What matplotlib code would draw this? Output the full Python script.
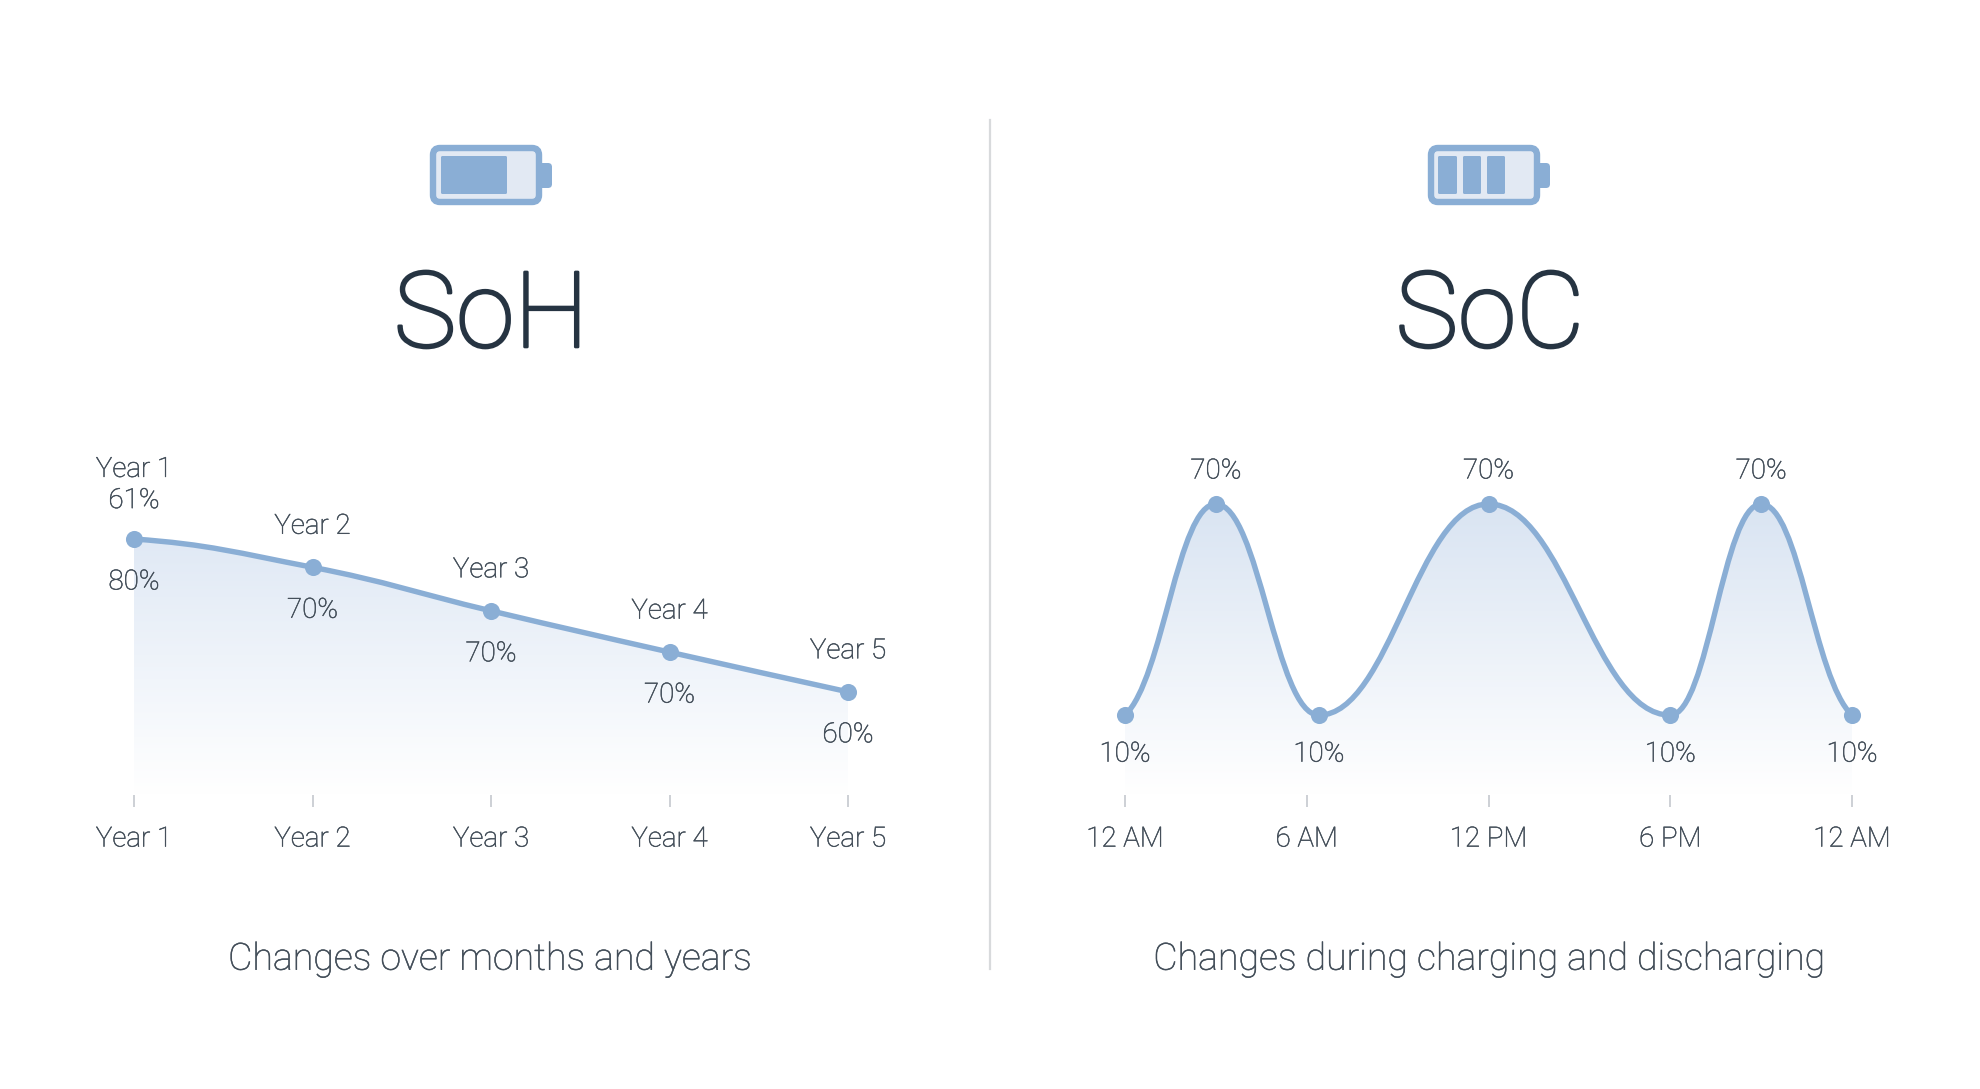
import numpy as np
import matplotlib
matplotlib.use('Agg')
import matplotlib.pyplot as plt
import matplotlib.patheffects as pe
from matplotlib.path import Path
from matplotlib.patches import PathPatch, FancyBboxPatch

plt.rcParams['font.family'] = ['Roboto', 'DejaVu Sans']

# values
soh_x = [0, 1, 2, 3, 4]
soh_level = [80, 76.3, 70.6, 65.2, 60]
soh_top_labels = ['Year 1\n61%', 'Year 2', 'Year 3', 'Year 4', 'Year 5']
soh_low_labels = ['80%', '70%', '70%', '70%', '60%']
soh_ticks = ['Year 1', 'Year 2', 'Year 3', 'Year 4', 'Year 5']

soc_hours = [0, 3, 6.4, 12, 18, 21, 24]
soc_level = [10, 70, 10, 70, 10, 70, 10]
soc_tick_hours = [0, 6, 12, 18, 24]
soc_ticks = ['12 AM', '6 AM', '12 PM', '6 PM', '12 AM']

W, H = 1980, 1089
LINE = '#8aaed5'
DARK = '#263442'
TEXT = '#434e59'
TICK = '#c9cdd2'
PALE = '#e2e9f3'


def heavier(w, c):
    return [pe.withStroke(linewidth=w, foreground=c)]


def smooth_path(xs, ys, start_slope, end_slope):
    # monotone bezier through the points, flat at the peaks and valleys
    xs = np.array(xs, dtype=float)
    ys = np.array(ys, dtype=float)
    sec = np.diff(ys) / np.diff(xs)
    m = np.zeros(len(xs))
    for i in range(1, len(xs) - 1):
        if sec[i - 1] * sec[i] > 0:
            m[i] = 2 * sec[i - 1] * sec[i] / (sec[i - 1] + sec[i])
    m[0] = sec[0] * start_slope
    m[-1] = sec[-1] * end_slope
    verts = [(xs[0], ys[0])]
    codes = [Path.MOVETO]
    for i in range(len(xs) - 1):
        h = (xs[i + 1] - xs[i]) * 0.42
        verts += [(xs[i] + h, ys[i] + m[i] * h),
                  (xs[i + 1] - h, ys[i + 1] - m[i + 1] * h),
                  (xs[i + 1], ys[i + 1])]
        codes += [Path.CURVE4] * 3
    return verts, codes


def panel(box, xs, ys, ylim, top_c, start_slope, end_slope):
    x0, x1, y_top, y_bot = box
    ax = fig.add_axes([x0 / W, 1 - y_bot / H, (x1 - x0) / W, (y_bot - y_top) / H])
    verts, codes = smooth_path(xs, ys, start_slope, end_slope)
    # gradient under the line
    fill = Path(verts + [(xs[-1], ylim[0]), (xs[0], ylim[0]), (xs[0], ys[0])],
                codes + [Path.LINETO, Path.LINETO, Path.LINETO])
    grad = np.linspace(0, 1, 256)[:, None, None]
    c0 = np.array(matplotlib.colors.to_rgb(top_c))
    img = c0 * (1 - grad) + np.ones(3) * grad
    im = ax.imshow(img, extent=(xs[0], xs[-1], ylim[0], max(ys)), origin='upper',
                   aspect='auto', zorder=1)
    im.set_clip_path(fill, transform=ax.transData)
    ax.add_patch(PathPatch(Path(verts, codes), fc='none', ec=LINE, lw=3.9, zorder=3,
                           capstyle='round', joinstyle='round', clip_on=False))
    ax.plot(xs, ys, ls='', marker='o', ms=12.3, mfc=LINE, mec='none', zorder=4, clip_on=False)
    ax.set_xlim(xs[0], xs[-1])
    ax.set_ylim(*ylim)
    for s in ax.spines.values():
        s.set_visible(False)
    ax.set_yticks([])
    ax.patch.set_alpha(0)
    return ax


def label(ax, x, y, s, dy):
    ax.annotate(s, (x, y), xytext=(0, dy * 0.72), textcoords='offset points', ha='center',
                va='center', fontsize=20, color=TEXT, fontweight='light', linespacing=1.2,
                annotation_clip=False, zorder=5, path_effects=heavier(0.35, TEXT))


fig = plt.figure(figsize=(W / 100, H / 100), dpi=100, facecolor='white')

# overlay in pixel units for icons, titles and divider
bg = fig.add_axes([0, 0, 1, 1])
bg.set_xlim(0, W)
bg.set_ylim(H, 0)
bg.axis('off')


def battery(x, bars):
    bg.add_patch(FancyBboxPatch((x + 104, 163), 18, 25, boxstyle='round,pad=0,rounding_size=4',
                                fc=LINE, ec='none', zorder=1))
    bg.add_patch(FancyBboxPatch((x + 3, 148), 106, 54, boxstyle='round,pad=0,rounding_size=7',
                                fc=PALE, ec=LINE, lw=4.6, zorder=2))
    for b0, b1 in bars:
        bg.add_patch(FancyBboxPatch((x + b0, 156), b1 - b0, 38,
                                    boxstyle='round,pad=0,rounding_size=1.5',
                                    fc=LINE, ec='none', zorder=3))


battery(430, [(11, 77)])
battery(1428, [(10, 29), (35, 53), (59, 77)])
bg.plot([990, 990], [120, 969], color='#d8dadc', lw=1.6)

for cx, t, sub in [(491, 'SoH', 'Changes over months and years'),
                   (1490, 'SoC', 'Changes during charging and discharging')]:
    bg.text(cx, 318, t, ha='center', va='center', fontsize=76, color=DARK, fontweight='light',
            path_effects=heavier(1.9, DARK))
    bg.text(cx - 1, 959, sub, ha='center', va='center', fontsize=27, color=TEXT, fontweight='light',
            path_effects=heavier(0.35, TEXT))

# left panel
ax1 = panel((134, 848, 539, 795), soh_x, soh_level, (46.5, 80), '#e0e9f5', 0.45, 1.0)
ax1.set_xticks(soh_x)
ax1.set_xticklabels(soh_ticks)
for x, y, a, b in zip(soh_x, soh_level, soh_top_labels, soh_low_labels):
    label(ax1, x, y, a, 54 if '\n' in a else 41)
    label(ax1, x, y, b, -43)

# right panel
ax2 = panel((1125, 1852, 504, 795), soc_hours, soc_level, (-12.7, 70), '#d9e4f2', 0.4, 0.4)
ax2.set_xticks(soc_tick_hours)
ax2.set_xticklabels(soc_ticks)
for x, y in zip(soc_hours, soc_level):
    if y > 50:
        label(ax2, x, y, '%d%%' % y, 33)
    else:
        label(ax2, x, y, '%d%%' % y, -39)

for ax in (ax1, ax2):
    ax.tick_params(axis='x', length=8.5, width=1.3, color=TICK, labelcolor=TEXT, labelsize=20, pad=13.5)
    for t in ax.get_xticklabels():
        t.set_fontweight('light')
        t.set_path_effects(heavier(0.35, TEXT))

fig.savefig('out.png', dpi=100, facecolor='white')
